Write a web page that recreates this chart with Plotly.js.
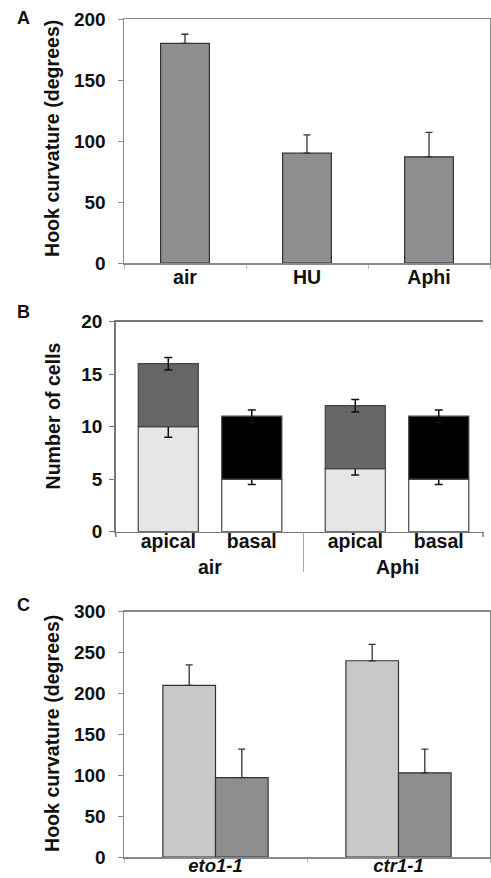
<!DOCTYPE html>
<html><head><meta charset="utf-8">
<script src="https://cdn.plot.ly/plotly-3.0.1.min.js"></script>
<style>html,body{margin:0;padding:0;background:#fff;}#chart{width:491px;height:878px;}</style>
</head><body><div id="chart"></div>
<script>
// Panel A
const aCategories = ['air', 'HU', 'Aphi'];
const aValues = [180, 90, 87];
const aErrors = [7.5, 15, 20];
// Panel B
const bGroups = ['air', 'Aphi'];
const bSubcats = ['apical', 'basal'];
const bLower = [10, 5, 6, 5];
const bLowerErr = [1, 0.5, 0.6, 0.5];
const bTotal = [16, 11, 12, 11];
const bTotalErr = [0.6, 0.6, 0.6, 0.6];
// Panel C
const cCategories = ['eto1-1', 'ctr1-1'];
const cLight = [210, 240];
const cLightErr = [25, 20];
const cDark = [97, 103];
const cDarkErr = [35, 29];

const W = 491, H = 878;
const FONT = 'Liberation Sans, Arial, Helvetica, sans-serif';
const fx = p => p / W;
const fy = p => (H - p) / H;

// B positions
const groupStep = 2.24;
const bX = [], bTickText = [];
bGroups.forEach((g, gi) => bSubcats.forEach((s, si) => { bX.push(gi * groupStep + si); bTickText.push(s); }));
const bGroupCenters = bGroups.map((g, gi) => gi * groupStep + (bSubcats.length - 1) / 2);
const bLowerColors = bX.map((_, i) => i % 2 === 0 ? '#e6e6e6' : '#ffffff');
const bUpperColors = bX.map((_, i) => i % 2 === 0 ? '#666666' : '#000000');

const tickFont = {family: FONT, size: 19, color: '#111', weight: 'bold'};
const xFont = {family: FONT, size: 19.5, color: '#111', weight: 'bold'};
const titleFont = {family: FONT, size: 19.6, weight: 'bold', color: '#111'};
const panelFont = {family: FONT, size: 18, weight: 'bold', color: '#111'};

const traces = [
  {type: 'bar', x: aCategories, y: aValues, xaxis: 'x', yaxis: 'y', width: 0.4,
   marker: {color: '#8e8e8e', line: {color: '#333', width: 1.2}},
   error_y: {type: 'data', array: aErrors, arrayminus: aValues.map(() => 0), symmetric: false, color: '#333', thickness: 1.3, width: 3.5},
   showlegend: false, hoverinfo: 'none'},
  {type: 'bar', x: bX, y: bLower, xaxis: 'x2', yaxis: 'y2', width: 0.72, offsetgroup: 'b',
   marker: {color: bLowerColors, line: {color: '#444', width: 1.2}},
   error_y: {type: 'data', array: bLowerErr, color: '#111', thickness: 1.5, width: 4},
   showlegend: false, hoverinfo: 'none'},
  {type: 'bar', x: bX, y: bTotal.map((t, i) => t - bLower[i]), base: bLower, xaxis: 'x2', yaxis: 'y2', width: 0.72, offsetgroup: 'b',
   marker: {color: bUpperColors, line: {color: '#444', width: 1.2}},
   error_y: {type: 'data', array: bTotalErr, color: '#111', thickness: 1.5, width: 4},
   showlegend: false, hoverinfo: 'none'},
  {type: 'bar', x: cCategories, y: cLight, xaxis: 'x3', yaxis: 'y3',
   marker: {color: '#c8c8c8', line: {color: '#333', width: 1.2}},
   error_y: {type: 'data', array: cLightErr, arrayminus: cLight.map(() => 0), symmetric: false, color: '#333', thickness: 1.3, width: 3.5},
   showlegend: false, hoverinfo: 'none'},
  {type: 'bar', x: cCategories, y: cDark, xaxis: 'x3', yaxis: 'y3',
   marker: {color: '#8e8e8e', line: {color: '#333', width: 1.2}},
   error_y: {type: 'data', array: cDarkErr, arrayminus: cDark.map(() => 0), symmetric: false, color: '#333', thickness: 1.3, width: 3.5},
   showlegend: false, hoverinfo: 'none'}
];

const boxAxis = {showline: true, mirror: true, linecolor: '#8a8a8a', linewidth: 1.5, showgrid: false, zeroline: false, fixedrange: true};

function ann(text, px, py, font, extra) {
  return Object.assign({text: text, x: fx(px), y: fy(py), xref: 'paper', yref: 'paper', xanchor: 'center', yanchor: 'middle',
    showarrow: false, font: font}, extra || {});
}

const layout = {
  width: W, height: H, margin: {l: 0, r: 0, t: 0, b: 0},
  paper_bgcolor: '#fff', plot_bgcolor: '#fff',
  barmode: 'group', bargap: 0.425, bargroupgap: 0,
  font: {family: FONT, color: '#111'},
  xaxis: Object.assign({}, boxAxis, {domain: [fx(124), fx(490)], anchor: 'y', type: 'category', range: [-0.5, 2.5],
    tickson: 'boundaries', ticks: 'outside', ticklen: 4, tickcolor: '#bbb', tickfont: xFont, ticklabelstandoff: -4}),
  yaxis: Object.assign({}, boxAxis, {domain: [fy(263), fy(19)], anchor: 'x', range: [0, 200], tickvals: [0, 50, 100, 150, 200],
    ticks: 'outside', ticklen: 5, tickcolor: '#8a8a8a', tickfont: tickFont, ticklabelstandoff: 8}),
  xaxis2: {domain: [fx(115.7), fx(483)], anchor: 'y2', range: [-0.63, 3.77], showline: true, mirror: true, linecolor: '#777', linewidth: 1.5,
    showgrid: false, zeroline: false, tickvals: bX, ticktext: bTickText, ticks: '', tickfont: xFont, ticklabelstandoff: -9, fixedrange: true},
  yaxis2: {domain: [fy(531.7), fy(321.7)], anchor: 'x2', range: [0, 20], tickvals: [0, 5, 10, 15, 20], showline: true, linecolor: '#777', linewidth: 1.5,
    showgrid: false, zeroline: false, ticks: 'outside', ticklen: 5, tickcolor: '#777', tickfont: tickFont, ticklabelstandoff: 3, fixedrange: true},
  xaxis3: Object.assign({}, boxAxis, {domain: [fx(124), fx(490)], anchor: 'y3', type: 'category', range: [-0.5, 1.5],
    tickson: 'boundaries', ticks: 'outside', ticklen: 4, tickcolor: '#bbb', ticklabelstandoff: -9,
    tickfont: Object.assign({}, xFont, {size: 18.5, style: 'italic'})}),
  yaxis3: Object.assign({}, boxAxis, {domain: [fy(857), fy(611.7)], anchor: 'x3', range: [0, 300], tickvals: [0, 50, 100, 150, 200, 250, 300],
    ticks: 'outside', ticklen: 5, tickcolor: '#8a8a8a', tickfont: tickFont, ticklabelstandoff: 8}),
  annotations: [
    ann('A', 23.5, 18, panelFont),
    ann('B', 23, 312, panelFont),
    ann('C', 23, 605, panelFont),
    ann('Hook curvature (degrees)', 52, 139, titleFont, {textangle: -90}),
    ann('Number of cells', 52, 416.5, titleFont, {textangle: -90}),
    ann('Hook curvature (degrees)', 52, 734, titleFont, {textangle: -90})
  ].concat(bGroups.map((g, gi) => ({text: g, x: bGroupCenters[gi], xref: 'x2', y: fy(566.7), yref: 'paper', xanchor: 'center', yanchor: 'middle',
     showarrow: false, font: xFont}))),
  shapes: [
    {type: 'line', xref: 'x2', yref: 'paper', x0: (bX[1] + bX[2]) / 2, x1: (bX[1] + bX[2]) / 2, y0: fy(531.7), y1: fy(572), line: {color: '#aaa', width: 1}},
    {type: 'line', xref: 'paper', yref: 'paper', x0: fx(483), x1: fx(483), y0: fy(531.7), y1: fy(537), line: {color: '#777', width: 1.5}},
    {type: 'line', xref: 'paper', yref: 'paper', x0: fx(115.7), x1: fx(115.7), y0: fy(531.7), y1: fy(537), line: {color: '#777', width: 1.5}}
  ]
};

Plotly.newPlot('chart', traces, layout, {staticPlot: true, displayModeBar: false});
</script></body></html>
